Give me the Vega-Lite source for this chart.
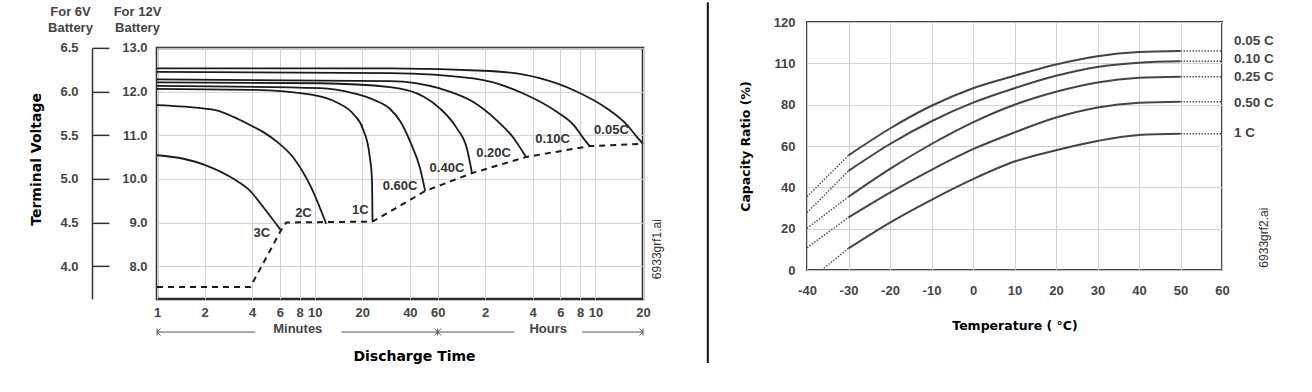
{
  "$schema": "https://vega.github.io/schema/vega-lite/v6.json",
  "padding": {"left": 28, "top": 0, "right": 0, "bottom": 0},
  "config": {
    "font": "Liberation Sans",
    "view": {"stroke": null},
    "axis": {"labelFont": "Liberation Sans", "labelFontSize": 13, "labelFontWeight": "bold", "labelColor": "#444", "gridColor": "#d0d0d0", "gridWidth": 1, "ticks": false, "domain": false, "titleFont": "DejaVu Sans", "titleFontWeight": "bold", "titleColor": "#111"}
  },
  "datasets": {
    "curves": [
      {"c":"3C","t":1,"v":10.54},{"c":"3C","t":1.47,"v":10.46},{"c":"3C","t":2,"v":10.32},{"c":"3C","t":3.05,"v":10.0},{"c":"3C","t":3.85,"v":9.74},{"c":"3C","t":4.72,"v":9.35},{"c":"3C","t":6.1,"v":8.82},
      {"c":"2C","t":1,"v":11.69},{"c":"2C","t":2,"v":11.61},{"c":"2C","t":2.39,"v":11.57},{"c":"2C","t":3.05,"v":11.42},{"c":"2C","t":3.85,"v":11.24},{"c":"2C","t":4.72,"v":11.07},{"c":"2C","t":5.8,"v":10.84},{"c":"2C","t":7.25,"v":10.5},{"c":"2C","t":9.46,"v":9.81},{"c":"2C","t":11.8,"v":8.97},
      {"c":"1C","t":1,"v":12.06},{"c":"1C","t":4,"v":12.04},{"c":"1C","t":9.5,"v":11.93},{"c":"1C","t":13.8,"v":11.75},{"c":"1C","t":17.6,"v":11.48},{"c":"1C","t":20.3,"v":11.12},{"c":"1C","t":22.2,"v":10.55},{"c":"1C","t":23,"v":10.0},{"c":"1C","t":23.2,"v":9.03},
      {"c":"0.60C","t":1,"v":12.13},{"c":"0.60C","t":10.8,"v":12.08},{"c":"0.60C","t":17.6,"v":11.96},{"c":"0.60C","t":24,"v":11.8},{"c":"0.60C","t":30,"v":11.6},{"c":"0.60C","t":35,"v":11.3},{"c":"0.60C","t":40.3,"v":10.84},{"c":"0.60C","t":46.5,"v":10.23},{"c":"0.60C","t":50,"v":9.72},
      {"c":"0.40C","t":1,"v":12.21},{"c":"0.40C","t":10.8,"v":12.19},{"c":"0.40C","t":30,"v":12.1},{"c":"0.40C","t":49,"v":11.88},{"c":"0.40C","t":62.2,"v":11.61},{"c":"0.40C","t":79.6,"v":11.15},{"c":"0.40C","t":92,"v":10.69},{"c":"0.40C","t":99,"v":10.13},
      {"c":"0.20C","t":1,"v":12.28},{"c":"0.20C","t":30,"v":12.24},{"c":"0.20C","t":62,"v":12.07},{"c":"0.20C","t":101,"v":11.76},{"c":"0.20C","t":142,"v":11.34},{"c":"0.20C","t":183,"v":10.92},{"c":"0.20C","t":211,"v":10.58},{"c":"0.20C","t":218,"v":10.5},
      {"c":"0.10C","t":1,"v":12.45},{"c":"0.10C","t":30,"v":12.42},{"c":"0.10C","t":101,"v":12.3},{"c":"0.10C","t":211,"v":11.95},{"c":"0.10C","t":343,"v":11.53},{"c":"0.10C","t":437,"v":11.23},{"c":"0.10C","t":505,"v":10.92},{"c":"0.10C","t":551,"v":10.75},
      {"c":"0.05C","t":1,"v":12.53},{"c":"0.05C","t":30,"v":12.53},{"c":"0.05C","t":129,"v":12.47},{"c":"0.05C","t":269,"v":12.3},{"c":"0.05C","t":437,"v":12.03},{"c":"0.05C","t":710,"v":11.61},{"c":"0.05C","t":953,"v":11.23},{"c":"0.05C","t":1098,"v":10.96},{"c":"0.05C","t":1200,"v":10.8}
    ],
    "cutoff": [
      {"t":1,"v":7.52},{"t":3.9,"v":7.52},{"t":6.1,"v":8.82},{"t":6.6,"v":9.0},{"t":23.2,"v":9.02},{"t":50,"v":9.72},{"t":99,"v":10.13},{"t":218,"v":10.5},{"t":551,"v":10.75},{"t":1200,"v":10.8}
    ],
    "leftLabels": [
      {"label":"3C","t":4.61,"v":8.76},{"label":"2C","t":8.47,"v":9.22},{"label":"1C","t":19.4,"v":9.28},{"label":"0.60C","t":34.7,"v":9.83},{"label":"0.40C","t":68.7,"v":10.25},{"label":"0.20C","t":135.7,"v":10.6},{"label":"0.10C","t":321,"v":10.91},{"label":"0.05C","t":757,"v":11.11}
    ],
    "arrows": [
      {"t":1,"t2":4.2,"v":6.49},{"t":14.8,"t2":60,"v":6.49},{"t":60,"t2":183,"v":6.49},{"t":495,"t2":1200,"v":6.49}
    ],
    "heads": [
      {"t":1,"kind":"start","v":6.49},{"t":60,"kind":"mid","v":6.49},{"t":1200,"kind":"end","v":6.49}
    ],
    "units": [
      {"label":"Minutes","t":7.8,"v":6.55},{"label":"Hours","t":301,"v":6.55}
    ],
    "right": [
      {"c":"0.05 C","T":-40,"cap":35.5,"seg":"dotL"},{"c":"0.05 C","T":-30,"cap":55.5,"seg":"dotL"},
      {"c":"0.05 C","T":-30,"cap":55.5,"seg":"solid"},{"c":"0.05 C","T":-20,"cap":68.5,"seg":"solid"},{"c":"0.05 C","T":-10,"cap":79.5,"seg":"solid"},{"c":"0.05 C","T":0,"cap":88,"seg":"solid"},{"c":"0.05 C","T":10,"cap":94,"seg":"solid"},{"c":"0.05 C","T":20,"cap":99.5,"seg":"solid"},{"c":"0.05 C","T":30,"cap":103.5,"seg":"solid"},{"c":"0.05 C","T":40,"cap":105.5,"seg":"solid"},{"c":"0.05 C","T":50,"cap":106,"seg":"solid"},
      {"c":"0.05 C","T":50,"cap":106,"seg":"dotR"},{"c":"0.05 C","T":60,"cap":106,"seg":"dotR"},
      {"c":"0.10 C","T":-40,"cap":27.8,"seg":"dotL"},{"c":"0.10 C","T":-30,"cap":48,"seg":"dotL"},
      {"c":"0.10 C","T":-30,"cap":48,"seg":"solid"},{"c":"0.10 C","T":-20,"cap":61,"seg":"solid"},{"c":"0.10 C","T":-10,"cap":72,"seg":"solid"},{"c":"0.10 C","T":0,"cap":81,"seg":"solid"},{"c":"0.10 C","T":10,"cap":88,"seg":"solid"},{"c":"0.10 C","T":20,"cap":94,"seg":"solid"},{"c":"0.10 C","T":30,"cap":98.3,"seg":"solid"},{"c":"0.10 C","T":40,"cap":100.3,"seg":"solid"},{"c":"0.10 C","T":50,"cap":101,"seg":"solid"},
      {"c":"0.10 C","T":50,"cap":101,"seg":"dotR"},{"c":"0.10 C","T":60,"cap":101,"seg":"dotR"},
      {"c":"0.25 C","T":-40,"cap":20.2,"seg":"dotL"},{"c":"0.25 C","T":-30,"cap":35.5,"seg":"dotL"},
      {"c":"0.25 C","T":-30,"cap":35.5,"seg":"solid"},{"c":"0.25 C","T":-20,"cap":49,"seg":"solid"},{"c":"0.25 C","T":-10,"cap":61,"seg":"solid"},{"c":"0.25 C","T":0,"cap":71.5,"seg":"solid"},{"c":"0.25 C","T":10,"cap":80,"seg":"solid"},{"c":"0.25 C","T":20,"cap":86.3,"seg":"solid"},{"c":"0.25 C","T":30,"cap":90.8,"seg":"solid"},{"c":"0.25 C","T":40,"cap":93,"seg":"solid"},{"c":"0.25 C","T":50,"cap":93.5,"seg":"solid"},
      {"c":"0.25 C","T":50,"cap":93.5,"seg":"dotR"},{"c":"0.25 C","T":60,"cap":93.5,"seg":"dotR"},
      {"c":"0.50 C","T":-40,"cap":10.8,"seg":"dotL"},{"c":"0.50 C","T":-30,"cap":25.5,"seg":"dotL"},
      {"c":"0.50 C","T":-30,"cap":25.5,"seg":"solid"},{"c":"0.50 C","T":-20,"cap":37.5,"seg":"solid"},{"c":"0.50 C","T":-10,"cap":48.5,"seg":"solid"},{"c":"0.50 C","T":0,"cap":58.5,"seg":"solid"},{"c":"0.50 C","T":10,"cap":66.6,"seg":"solid"},{"c":"0.50 C","T":20,"cap":73.8,"seg":"solid"},{"c":"0.50 C","T":30,"cap":78.7,"seg":"solid"},{"c":"0.50 C","T":40,"cap":81,"seg":"solid"},{"c":"0.50 C","T":50,"cap":81.5,"seg":"solid"},
      {"c":"0.50 C","T":50,"cap":81.5,"seg":"dotR"},{"c":"0.50 C","T":60,"cap":81.5,"seg":"dotR"},
      {"c":"1 C","T":-36.5,"cap":0,"seg":"dotL"},{"c":"1 C","T":-30,"cap":10.5,"seg":"dotL"},
      {"c":"1 C","T":-30,"cap":10.5,"seg":"solid"},{"c":"1 C","T":-20,"cap":23,"seg":"solid"},{"c":"1 C","T":-10,"cap":34,"seg":"solid"},{"c":"1 C","T":0,"cap":44,"seg":"solid"},{"c":"1 C","T":10,"cap":52.5,"seg":"solid"},{"c":"1 C","T":20,"cap":58,"seg":"solid"},{"c":"1 C","T":30,"cap":62.5,"seg":"solid"},{"c":"1 C","T":40,"cap":65.4,"seg":"solid"},{"c":"1 C","T":50,"cap":66,"seg":"solid"},
      {"c":"1 C","T":50,"cap":66,"seg":"dotR"},{"c":"1 C","T":60,"cap":66,"seg":"dotR"}
    ],
    "rightLabels": [
      {"label":"0.05 C","T":60,"cap":111},{"label":"0.10 C","T":60,"cap":102},{"label":"0.25 C","T":60,"cap":93.2},{"label":"0.50 C","T":60,"cap":81},{"label":"1 C","T":60,"cap":66.5}
    ]
  },
  "hconcat": [
    {
      "width": 486,
      "height": 251,
      "view": {"stroke": "#2a2a2a", "strokeWidth": 2.5},
      "title": {"text": "Terminal Voltage", "orient": "left", "anchor": "middle", "font": "DejaVu Sans", "fontSize": 14, "fontWeight": "bold", "color": "#000", "offset": 4, "dx": 14},
      "resolve": {"scale": {"y": "independent"}},
      "layer": [
        {
          "data": {"name": "curves"},
          "mark": {"type": "line", "color": "#1a1a1a", "strokeWidth": 1.8, "interpolate": "monotone"},
          "encoding": {
            "x": {"field": "t", "type": "quantitative", "scale": {"type": "log", "domain": [1, 1200], "nice": false},
              "axis": {"orient": "bottom", "values": [1,2,4,6,8,10,20,40,60,120,240,360,480,600,1200], "labelExpr": "datum.value >= 120 ? format(datum.value/60, 'd') : format(datum.value, 'd')", "labelOverlap": false, "labelFlush": false, "labelPadding": 8, "grid": true, "title": "Discharge Time", "titleFontSize": 14, "titlePadding": 30, "titleX": 257, "titleColor": "#000"}},
            "y": {"field": "v", "type": "quantitative", "scale": {"domain": [7.25, 13], "nice": false, "zero": false},
              "axis": {"orient": "left", "values": [8,9,10,11,12,13], "format": ".1f", "labelPadding": 10, "grid": true, "title": ["For 12V", "Battery"], "titleAngle": 0, "titleAlign": "center", "titleBaseline": "bottom", "titleLineHeight": 16, "titleX": -20, "titleY": -29, "titleFont": "Liberation Sans", "titleFontSize": 13, "titleColor": "#444"}},
            "detail": {"field": "c"}
          }
        },
        {
          "data": {"name": "cutoff"},
          "mark": {"type": "line", "color": "#1a1a1a", "strokeWidth": 2, "strokeDash": [6, 5]},
          "encoding": {
            "x": {"field": "t", "type": "quantitative"},
            "y": {"field": "v", "type": "quantitative", "axis": null, "scale": {"domain": [7.25, 13], "nice": false, "zero": false}}
          }
        },
        {
          "data": {"name": "leftLabels"},
          "mark": {"type": "text", "font": "Liberation Sans", "fontSize": 13, "fontWeight": "bold", "color": "#333"},
          "encoding": {
            "x": {"field": "t", "type": "quantitative"},
            "y": {"field": "v", "type": "quantitative", "axis": null, "scale": {"domain": [7.25, 13], "nice": false, "zero": false}},
            "text": {"field": "label"}
          }
        },
        {
          "data": {"name": "arrows"},
          "mark": {"type": "rule", "color": "#555", "strokeWidth": 1},
          "encoding": {
            "x": {"field": "t", "type": "quantitative"},
            "x2": {"field": "t2"},
            "y": {"field": "v", "type": "quantitative", "axis": null, "scale": {"domain": [7.25, 13], "nice": false, "zero": false}}
          }
        },
        {
          "data": {"name": "heads"},
          "mark": {"type": "point", "filled": false, "stroke": "#555", "strokeWidth": 1, "size": 50, "opacity": 1},
          "encoding": {
            "x": {"field": "t", "type": "quantitative"},
            "y": {"field": "v", "type": "quantitative", "axis": null, "scale": {"domain": [7.25, 13], "nice": false, "zero": false}},
            "shape": {"field": "kind", "type": "nominal", "legend": null, "scale": {"domain": ["start", "mid", "end"], "range": ["M0,-1L0,1M1,-1L0,0L1,1", "M-1,-1L0,0L-1,1M0,-1L0,1M1,-1L0,0L1,1", "M-1,-1L0,0L-1,1M0,-1L0,1"]}}
          }
        },
        {
          "data": {"name": "units"},
          "mark": {"type": "text", "font": "Liberation Sans", "fontSize": 13, "fontWeight": "bold", "color": "#444"},
          "encoding": {
            "x": {"field": "t", "type": "quantitative"},
            "y": {"field": "v", "type": "quantitative", "axis": null, "scale": {"domain": [7.25, 13], "nice": false, "zero": false}},
            "text": {"field": "label"}
          }
        },
        {
          "data": {"values": [{"label": "6933grf1.ai", "t": 1480, "v": 8.39}]},
          "mark": {"type": "text", "font": "Liberation Sans", "fontSize": 12, "color": "#333", "angle": 270},
          "encoding": {
            "x": {"field": "t", "type": "quantitative"},
            "y": {"field": "v", "type": "quantitative", "axis": null, "scale": {"domain": [7.25, 13], "nice": false, "zero": false}},
            "text": {"field": "label"}
          }
        },
        {
          "data": {"values": [{}]},
          "mark": {"type": "point", "opacity": 0},
          "encoding": {
            "y": {"datum": 5, "type": "quantitative", "scale": {"domain": [3.625, 6.5], "nice": false, "zero": false},
              "axis": {"orient": "left", "offset": 65, "values": [4, 4.5, 5, 5.5, 6, 6.5], "format": ".1f", "domain": true, "domainColor": "#333", "domainWidth": 1.5, "ticks": true, "tickSize": -17, "tickColor": "#333", "tickWidth": 1.5, "labelPadding": 31, "grid": false, "title": ["For 6V", "Battery"], "titleAngle": 0, "titleAlign": "center", "titleBaseline": "bottom", "titleLineHeight": 16, "titleX": -22, "titleY": -29, "titleFont": "Liberation Sans", "titleFontSize": 13, "titleColor": "#444"}}
          }
        }
      ]
    },
    {
      "width": 415,
      "height": 248,
      "view": {"stroke": "#444", "strokeWidth": 2},
      "layer": [
        {
          "data": {"name": "right"},
          "transform": [{"filter": "datum.seg == 'solid'"}],
          "mark": {"type": "line", "color": "#444", "strokeWidth": 2, "interpolate": "monotone"},
          "encoding": {
            "x": {"field": "T", "type": "quantitative", "scale": {"domain": [-40, 60], "nice": false},
              "axis": {"orient": "bottom", "values": [-40,-30,-20,-10,0,10,20,30,40,50,60], "labelExpr": "replace(datum.label, '\u2212', '-')", "labelPadding": 14, "labelFlush": false, "grid": true, "title": "Temperature ( °C)", "titleFontSize": 12.5, "titlePadding": 22, "titleColor": "#000"}},
            "y": {"field": "cap", "type": "quantitative", "scale": {"domain": [0, 120], "nice": false},
              "axis": {"orient": "left", "values": [0,20,40,60,80,100,120], "labelExpr": "datum.value == 100 ? '110' : datum.label", "labelPadding": 12, "grid": true, "title": "Capacity Ratio (%)", "titleFontSize": 12.5, "titlePadding": 21, "titleColor": "#000"}},
            "detail": {"field": "c"}
          }
        },
        {
          "data": {"name": "right"},
          "transform": [{"filter": "datum.seg != 'solid'"}],
          "mark": {"type": "line", "color": "#555", "strokeWidth": 1.5, "strokeDash": [1.5, 1.5]},
          "encoding": {
            "x": {"field": "T", "type": "quantitative"},
            "y": {"field": "cap", "type": "quantitative"},
            "detail": [{"field": "c"}, {"field": "seg"}]
          }
        },
        {
          "data": {"name": "rightLabels"},
          "mark": {"type": "text", "align": "left", "dx": 12, "font": "Liberation Sans", "fontSize": 13.5, "fontWeight": "bold", "color": "#444"},
          "encoding": {
            "x": {"field": "T", "type": "quantitative"},
            "y": {"field": "cap", "type": "quantitative"},
            "text": {"field": "label"}
          }
        },
        {
          "data": {"values": [{"label": "6933grf2.ai", "T": 70.2, "cap": 15.7}]},
          "mark": {"type": "text", "font": "Liberation Sans", "fontSize": 12, "color": "#333", "angle": 270},
          "encoding": {
            "x": {"field": "T", "type": "quantitative"},
            "y": {"field": "cap", "type": "quantitative"},
            "text": {"field": "label"}
          }
        },
        {
          "data": {"values": [{}]},
          "mark": {"type": "rule", "color": "#111", "strokeWidth": 2},
          "encoding": {
            "x": {"datum": -63.9, "type": "quantitative"},
            "y": {"datum": -45, "type": "quantitative"},
            "y2": {"datum": 129.6}
          }
        },
        {
          "data": {"values": [{}]},
          "mark": {"type": "rule", "color": "#fff", "strokeWidth": 1, "opacity": 0},
          "encoding": {
            "x": {"datum": -63.9, "type": "quantitative"},
            "y": {"datum": -58, "type": "quantitative"},
            "y2": {"datum": -45}
          }
        }
      ]
    }
  ],
  "spacing": 40,
  "center": true
}
